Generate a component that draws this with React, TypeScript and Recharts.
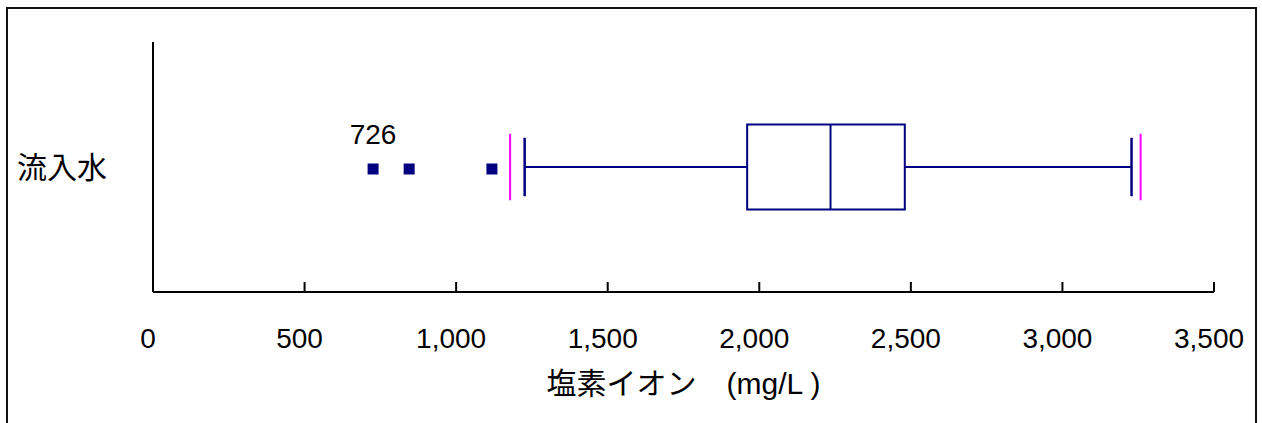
import { ComposedChart, Scatter, XAxis, YAxis, ReferenceArea, ReferenceLine, ReferenceDot } from "recharts"

// one category, one box
const categories = ["流入水"]
const xTicks = [0, 500, 1000, 1500, 2000, 2500, 3000, 3500]
const axisLabel = "塩素イオン　(mg/L )"

// box stats
const q1 = [1960]
const median = [2235]
const q3 = [2480]
const whiskerLow = [1226]
const whiskerHigh = [3228]
const fenceLow = [1178]
const fenceHigh = [3258]
const outliers = [726, 845, 1118]

const FONT = "'Liberation Sans', Arial, 'Noto Sans CJK JP', sans-serif"
const NAVY = "#000080"
const PINK = "#ff00ff"
const BOX_HALF = 0.34
const CAP_HALF = 0.234
const FENCE_HALF = 0.266

const outlierData = outliers.map((v) => ({ x: v, y: 1 }))

const fmt = (v: number) => v.toLocaleString("en-US")

const Square = (p: any) => (
  <rect x={p.cx - 5.5} y={p.cy - 3.5} width={11} height={11} fill={NAVY} />
)

export default function App() {
  const i = 0
  const c = i + 1
  return (
    <div style={{ position: "absolute", left: 0, top: 0, width: 1262, height: 423, overflow: "hidden", background: "#fff" }}>
      <div
        style={{
          position: "absolute",
          left: 6,
          top: 7,
          width: 1251,
          height: 500,
          border: "2px solid #111",
          boxSizing: "border-box",
        }}
      />
      <div style={{ position: "absolute", left: 0, top: 0 }}>
        <ComposedChart width={1262} height={423} margin={{ top: 42, right: 48, bottom: 71, left: 0 }}>
          <XAxis
            type="number"
            dataKey="x"
            domain={[0, 3500]}
            ticks={xTicks}
            tickFormatter={fmt}
            height={60}
            tickSize={-10}
            tickMargin={46}
            axisLine={{ stroke: "#000", strokeWidth: 2 }}
            tickLine={{ stroke: "#000", strokeWidth: 2 }}
            tick={{ fontSize: 28, fill: "#000", fontFamily: FONT, dx: -5 }}
            label={{ value: axisLabel, position: "bottom", offset: 21, fontSize: 30, fill: "#000", fontFamily: FONT }}
          />
          <YAxis
            type="number"
            dataKey="y"
            domain={[0, 2]}
            ticks={[1]}
            tickFormatter={(v: number) => categories[v - 1] ?? ""}
            width={153}
            tickSize={0}
            tickMargin={46}
            tickLine={false}
            axisLine={{ stroke: "#000", strokeWidth: 2 }}
            tick={{ fontSize: 30, fill: "#000", fontFamily: FONT }}
          />
          <ReferenceArea
            x1={q1[i]}
            x2={q3[i]}
            y1={c - BOX_HALF}
            y2={c + BOX_HALF}
            fill="#fff"
            fillOpacity={0}
            stroke={NAVY}
            strokeWidth={2}
          />
          <ReferenceLine segment={[{ x: median[i], y: c - BOX_HALF }, { x: median[i], y: c + BOX_HALF }]} stroke={NAVY} strokeWidth={2} />
          <ReferenceLine segment={[{ x: whiskerLow[i], y: c }, { x: q1[i], y: c }]} stroke={NAVY} strokeWidth={2} />
          <ReferenceLine segment={[{ x: q3[i], y: c }, { x: whiskerHigh[i], y: c }]} stroke={NAVY} strokeWidth={2} />
          <ReferenceLine segment={[{ x: whiskerLow[i], y: c - CAP_HALF }, { x: whiskerLow[i], y: c + CAP_HALF }]} stroke={NAVY} strokeWidth={2.5} />
          <ReferenceLine segment={[{ x: whiskerHigh[i], y: c - CAP_HALF }, { x: whiskerHigh[i], y: c + CAP_HALF }]} stroke={NAVY} strokeWidth={2.5} />
          <ReferenceLine segment={[{ x: fenceLow[i], y: c - FENCE_HALF }, { x: fenceLow[i], y: c + FENCE_HALF }]} stroke={PINK} strokeWidth={2} />
          <ReferenceLine segment={[{ x: fenceHigh[i], y: c - FENCE_HALF }, { x: fenceHigh[i], y: c + FENCE_HALF }]} stroke={PINK} strokeWidth={2} />
          <Scatter data={outlierData} shape={Square} isAnimationActive={false} />
          <ReferenceDot
            x={outliers[0]}
            y={c}
            r={0}
            fill="none"
            stroke="none"
            label={{ value: String(outliers[0]), position: "top", offset: 23, fontSize: 28, fill: "#000", fontFamily: FONT }}
          />
        </ComposedChart>
      </div>
    </div>
  )
}
